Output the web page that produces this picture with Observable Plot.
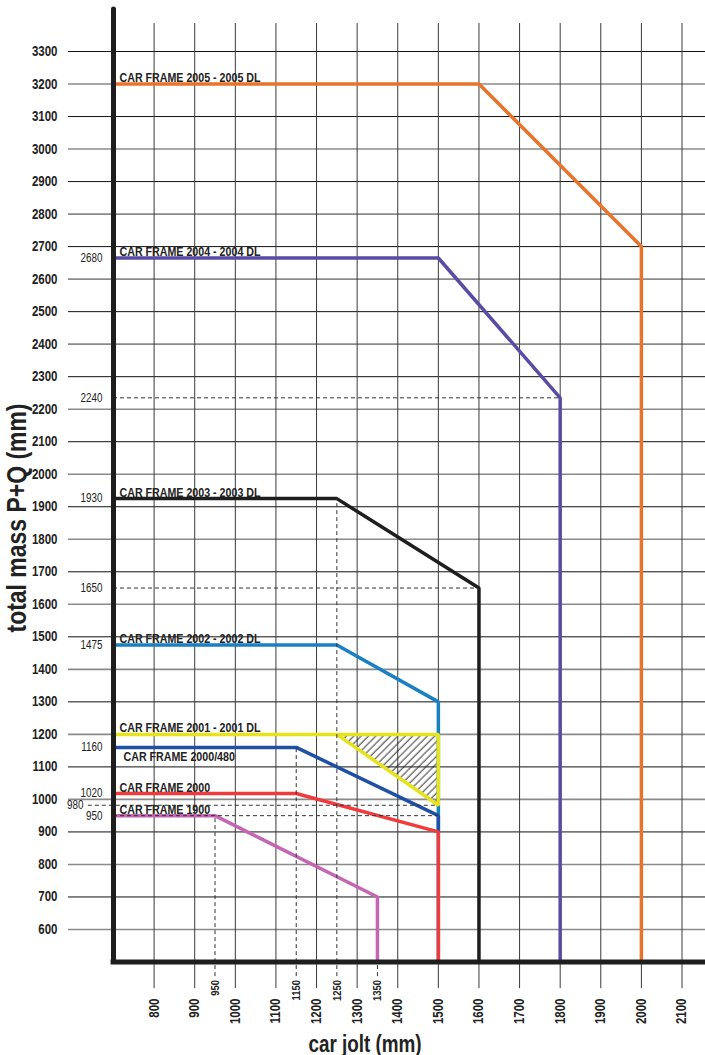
<!DOCTYPE html>
<html><head><meta charset="utf-8">
<script src="https://cdn.jsdelivr.net/npm/d3@7"></script>
<script src="https://cdn.jsdelivr.net/npm/@observablehq/plot@0.6"></script>
<style>html,body{margin:0;padding:0;background:#fff;overflow:hidden}</style>
</head><body><div id="chart"></div>
<script>
// ---- data ----
const xTicks = [800,900,1000,1100,1200,1300,1400,1500,1600,1700,1800,1900,2000,2100];
const yTicks = [600,700,800,900,1000,1100,1200,1300,1400,1500,1600,1700,1800,1900,2000,2100,2200,2300,2400,2500,2600,2700,2800,2900,3000,3100,3200,3300];
const xMarkTicks = [950,1150,1250,1350];

const frameNames = ["CAR FRAME 2005 - 2005 DL","CAR FRAME 2004 - 2004 DL","CAR FRAME 2003 - 2003 DL","CAR FRAME 2002 - 2002 DL","CAR FRAME 2000/480","CAR FRAME 2001 - 2001 DL","CAR FRAME 2000","CAR FRAME 1900"];
const f2005Jolt = [700,1600,2000,2000], f2005Mass = [3200,3200,2700,500];
const f2004Jolt = [700,1500,1800,1800], f2004Mass = [2665,2665,2235,500];
const f2003Jolt = [700,1250,1600,1600], f2003Mass = [1925,1925,1650,500];
const f2002Jolt = [700,1250,1500,1500], f2002Mass = [1475,1475,1300,500];
const f2000_480Jolt = [700,1150,1500,1500], f2000_480Mass = [1160,1160,950,900];
const f2001Jolt = [700,1500,1500,1250], f2001Mass = [1200,1200,982,1200];
const f2000Jolt = [700,1150,1500,1500], f2000Mass = [1018,1018,900,500];
const f1900Jolt = [700,950,1350,1350], f1900Mass = [950,950,700,500];

const hatchJolt = [1250,1500], hatchLow = [1200,982], hatchHigh = [1200,1200];

const levelLabels = ["2680","2240","1930","1650","1475","1160","1020","950"];
const levelValues = [2665,2235,1925,1650,1475,1160,1018,950];
const level980Label = "980", level980Value = 982;

// dashed reference lines (horizontal: value, to jolt)
const hRefMass = [2235,1650,982,950], hRefTo = [1800,1600,1500,1500];
// vertical reference lines (jolt, from mass)
const vRefJolt = [950,1150,1250,1350], vRefFrom = [950,1160,1925,500];

// ---- build tables ----
const joltArrays = [f2005Jolt,f2004Jolt,f2003Jolt,f2002Jolt,f2000_480Jolt,f2001Jolt,f2000Jolt,f1900Jolt];
const massArrays = [f2005Mass,f2004Mass,f2003Mass,f2002Mass,f2000_480Mass,f2001Mass,f2000Mass,f1900Mass];
const rows = frameNames.flatMap((name,i)=>joltArrays[i].map((j,k)=>({name, jolt:j, mass:massArrays[i][k]})));
const labelRows = frameNames.map((name,i)=>({name, jolt:joltArrays[i][0], mass:massArrays[i][0]}));
const hatchRows = hatchJolt.map((j,i)=>({jolt:j, lo:hatchLow[i], hi:hatchHigh[i]}));

const FONT = "'Liberation Sans',Arial,sans-serif";

const defsMark = () => {
  const ns = "http://www.w3.org/2000/svg";
  const defs = document.createElementNS(ns, "defs");
  defs.innerHTML = '<pattern id="hatch" patternUnits="userSpaceOnUse" width="5.2" height="5.2" patternTransform="rotate(45)"><line x1="1" y1="0" x2="1" y2="5.2" stroke="#222" stroke-width="0.9"/></pattern>';
  return defs;
};

const colors = ["#e8742a","#5b4ba5","#1e1e1e","#1a80c4","#1f50a5","#e6e21c","#ef3b3b","#c466b4"];

const plot = Plot.plot({
  width: 705, height: 1055,
  marginTop: 0, marginRight: 0, marginBottom: 0, marginLeft: 0,
  x: {domain: [700, 2100], range: [113, 681.5], axis: null},
  y: {domain: [500, 3300], range: [961.5, 51], axis: null},
  color: {domain: frameNames, range: colors},
  style: {background: "#fff", overflow: "hidden"},
  marks: [
    defsMark,
    // grid
    Plot.ruleY(yTicks, {y: d=>d, x1: 589, x2: 2158, stroke: d => (d/100)%2 ? "#111" : "#8a8a8a", strokeWidth: d => (d/100)%2 ? 1 : 1.6}),
    Plot.ruleX(xTicks, {x: d=>d, y1: 418, y2: 3386, stroke: "#3a3a3a", strokeWidth: 1}),
    // hatch
    Plot.areaY(hatchRows, {x: "jolt", y1: "lo", y2: "hi", fill: "url(#hatch)"}),
    // series
    Plot.line(rows, {x: "jolt", y: "mass", z: "name", stroke: "name", strokeWidth: 3.5, strokeLinejoin: "miter", strokeLinecap: "butt"}),
    // dashed references
    Plot.ruleY(hRefMass, {y: d=>d, x1: d => d===982 ? 638 : 700, x2: (d,i)=>hRefTo[i], stroke: "#333", strokeWidth: 1, strokeDasharray: "4,3"}),
    Plot.ruleX(vRefJolt, {x: d=>d, y1: 455, y2: (d,i)=>vRefFrom[i], stroke: "#333", strokeWidth: 1, strokeDasharray: "4,3"}),
    // frame
    Plot.ruleX([700], {x: d=>d, y1: 500, y2: 3429, stroke: "#1e1e1e", strokeWidth: 5, strokeLinecap: "round"}),
    Plot.ruleY([500], {y: d=>d, x1: 694, x2: 2158, stroke: "#1e1e1e", strokeWidth: 5}),
    // y tick labels
    Plot.text(yTicks, {x: 700, y: d=>d, dx: -56, text: d=>String(d), textAnchor: "end", fontFamily: FONT, fontWeight: "bold", fontSize: 14, fill: "#222"}),
    // x tick labels
    Plot.text(xTicks, {x: d=>d, y: 500, dy: 36.5, text: d=>String(d), rotate: -90, textAnchor: "end", lineAnchor: "middle", fontFamily: FONT, fontWeight: "bold", fontSize: 14, fill: "#222"}),
    Plot.text(xMarkTicks, {x: d=>d, y: 500, dy: 18, text: d=>String(d), rotate: -90, textAnchor: "end", lineAnchor: "middle", fontFamily: FONT, fontWeight: "bold", fontSize: 11.5, fill: "#222"}),
    // level labels
    Plot.text(levelValues, {x: 700, y: d=>d, dx: -11, text: (d,i)=>levelLabels[i], textAnchor: "end", fontFamily: FONT, fontSize: 12, fill: "#222"}),
    Plot.text([level980Value], {x: 700, y: d=>d, dx: -30, text: [level980Label], textAnchor: "end", fontFamily: FONT, fontSize: 12, fill: "#222"}),
    // series labels
    Plot.text(labelRows.filter(d=>d.name!=="CAR FRAME 2000/480"), {x: "jolt", y: "mass", text: "name", dx: 6, dy: -2, textAnchor: "start", lineAnchor: "bottom", fontFamily: FONT, fontWeight: "bold", fontSize: 13, fill: "#222"}),
    Plot.text(labelRows.filter(d=>d.name==="CAR FRAME 2000/480"), {x: "jolt", y: "mass", text: "name", dx: 10, dy: 4, textAnchor: "start", lineAnchor: "top", fontFamily: FONT, fontWeight: "bold", fontSize: 13, fill: "#222"}),
    // axis titles
    Plot.text(["total mass P+Q (mm)"], {frameAnchor: "left", dx: 17, dy: -10, rotate: -90, textAnchor: "middle", lineAnchor: "middle", fontFamily: FONT, fontWeight: "bold", fontSize: 28, fill: "#222"}),
    Plot.text(["car jolt (mm)"], {frameAnchor: "bottom", dx: 12, dy: -4, textAnchor: "middle", lineAnchor: "bottom", fontFamily: FONT, fontWeight: "bold", fontSize: 23, fill: "#222"})
  ]
});
document.getElementById("chart").append(plot);
// condense the text horizontally (narrow, like the original condensed typeface)
plot.querySelectorAll("text").forEach(t => {
  const w = t.getComputedTextLength();
  if (w > 0) {
    t.setAttribute("textLength", (w * 0.82).toFixed(2));
    t.setAttribute("lengthAdjust", "spacingAndGlyphs");
  }
});
</script>
</body></html>
